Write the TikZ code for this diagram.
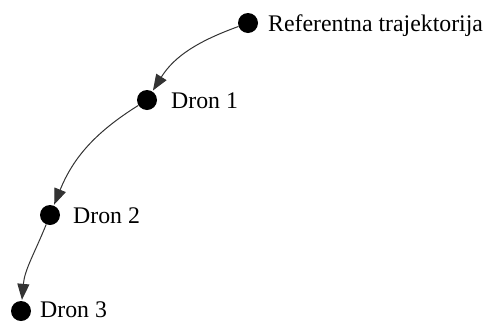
\documentclass[tikz,border=0pt]{standalone}
\usepackage{fontspec}
\setmainfont{Liberation Serif}
\usetikzlibrary{arrows.meta}
\begin{document}
\begin{tikzpicture}[x=1pt,y=-1pt,
  dot/.style={circle,fill=black,inner sep=0pt,minimum size=20pt},
  lbl/.style={anchor=base west,inner sep=0pt,font=\fontsize{23.8}{28}\selectfont},
  conn/.style={draw=black!80,line width=1pt,-{Triangle[length=16pt,width=12pt]},shorten >=1pt}]
\useasboundingbox (0,0) rectangle (487,322);
\node[dot] (r) at (248,23) {};
\node[dot] (d1) at (147,100) {};
\node[dot] (d2) at (50,215) {};
\node[dot] (d3) at (21,311) {};
\node[lbl] (tr) at (268,31) {Referentna trajektorija};
\node[lbl] (t1) at (171,108) {Dron 1};
\node[lbl] (t2) at (73,223) {Dron 2};
\node[lbl] (t3) at (40,317) {Dron 3};
\draw[conn] (r) to[out=200,in=58] (d1);
\draw[conn] (d1) to[out=212,in=68] (d2);
\draw[conn] (d2) to[out=248,in=85] (d3);
\end{tikzpicture}
\end{document}
